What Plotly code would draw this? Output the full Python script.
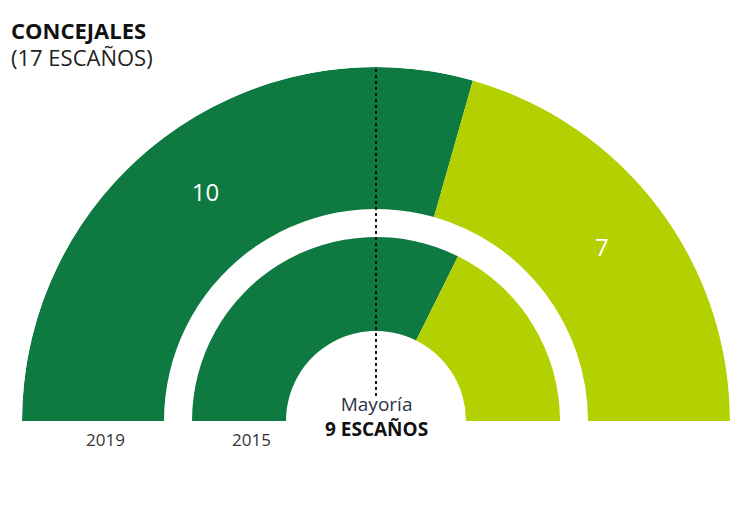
import plotly.graph_objects as go

# ---- data ----
total_seats = 17
majority = 9
years = ["2019", "2015"]
seats_2019 = [10, 7]
seats_2015 = [11, 6]
party_colors = ["#0e7a41", "#b3d000"]
show_labels = {"2019": True, "2015": False}

W, H = 745, 511
# ring geometry (radial units = pixels of outer radius 354)
R_MAX = 354
rings = {"2019": (212, 354), "2015": (90, 184)}
seat_data = {"2019": seats_2019, "2015": seats_2015}

deg_per_seat = 180.0 / total_seats

fig = go.Figure()
for yr in years:
    r0, r1 = rings[yr]
    vals = seat_data[yr]
    cum = 0
    thetas, widths = [], []
    for v in vals:
        thetas.append((cum + v / 2) * deg_per_seat)
        widths.append(v * deg_per_seat)
        cum += v
    fig.add_trace(go.Barpolar(
        r=[r1 - r0] * len(vals), base=[r0] * len(vals),
        theta=thetas, width=widths,
        marker=dict(color=party_colors, line=dict(width=0)),
        hoverinfo="skip", showlegend=False,
    ))
    if show_labels[yr]:
        fig.add_trace(go.Scatterpolar(
            r=[(r0 + r1) / 2] * len(vals), theta=thetas,
            mode="text", text=[str(v) for v in vals],
            textfont=dict(color="white", size=24, family="Open Sans"),
            hoverinfo="skip", showlegend=False,
        ))

# majority dotted line
fig.add_trace(go.Scatterpolar(
    r=[25, R_MAX], theta=[90, 90], mode="lines",
    line=dict(color="#111", width=2, dash="dot"),
    hoverinfo="skip", showlegend=False,
))

fig.update_layout(
    width=W, height=H,
    margin=dict(l=0, r=0, t=0, b=0),
    paper_bgcolor="white",
    polar=dict(
        domain=dict(x=[22 / W, 730 / W], y=[1 - 421 / H, 1 - 67 / H]),
        sector=[0, 180],
        bgcolor="rgba(0,0,0,0)",
        radialaxis=dict(range=[0, R_MAX], visible=False, showgrid=False),
        angularaxis=dict(rotation=180, direction="clockwise", visible=False,
                         showgrid=False),
        bargap=0,
    ),
    font=dict(family="Open Sans"),
)

def ann(text, x, y, size, color="#222", xanchor="center", bold=False):
    fig.add_annotation(
        text=f"<b>{text}</b>" if bold else text,
        x=x / W, y=1 - y / H, xref="paper", yref="paper",
        xanchor=xanchor, yanchor="middle", showarrow=False,
        font=dict(size=size, color=color, family="Open Sans"),
    )

ann("CONCEJALES", 9, 30, 22, color="#111", xanchor="left", bold=True)
ann(f"({total_seats} ESCAÑOS)", 9, 57, 22, color="#222", xanchor="left")
fig.add_annotation(
    text=f"<span style='color:#2b3446'>Mayoría</span><br><b>{majority} ESCAÑOS</b>",
    x=376 / W, y=1 - 416 / H, xref="paper", yref="paper",
    xanchor="center", yanchor="middle", showarrow=False,
    font=dict(size=19, color="#111", family="Open Sans"),
)
ann(years[0], 105, 439, 17, color="#333")
ann(years[1], 251, 439, 17, color="#333")

fig.write_html("out.html")
